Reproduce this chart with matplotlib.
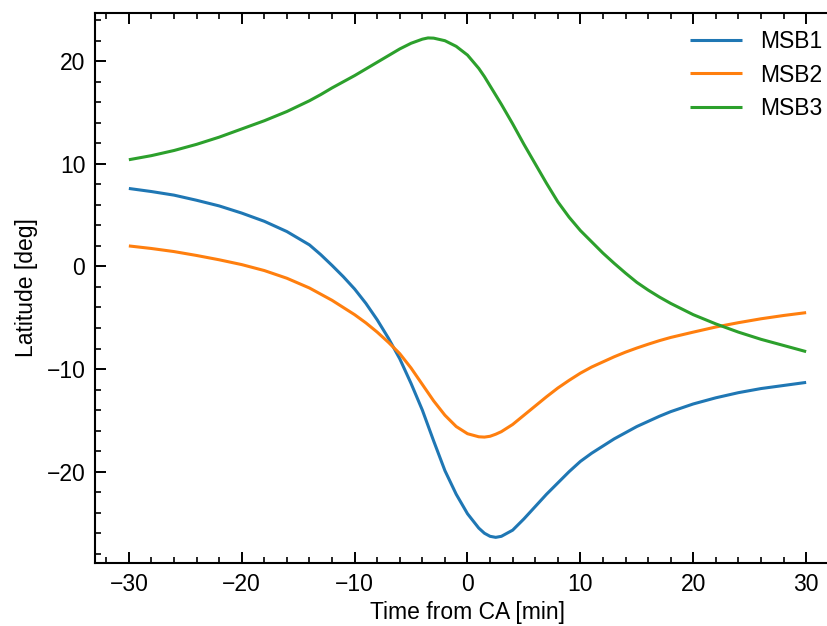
import matplotlib
matplotlib.use("Agg")
import matplotlib.pyplot as plt
from matplotlib.ticker import MultipleLocator

plt.rcParams['font.family'] = ['Liberation Sans', 'DejaVu Sans']

time_min = [-30, -28, -26, -24, -22, -20, -18, -16, -14, -13, -12, -11, -10, -9, -8, -7,
            -6, -5, -4, -3.5, -3, -2, -1, 0, 1, 1.5, 2, 2.5, 3, 4, 5, 6, 7, 8, 9, 10,
            11, 12, 13, 14, 15, 16, 17, 18, 20, 22, 24, 26, 28, 30]

msb1 = [7.6, 7.3, 6.95, 6.45, 5.9, 5.2, 4.4, 3.4, 2.1, 1.15, 0.1, -1.0, -2.2, -3.6, -5.2,
        -7.0, -9.0, -11.4, -14.0, -15.5, -17.0, -19.9, -22.2, -24.1, -25.5, -26.0, -26.3,
        -26.4, -26.3, -25.7, -24.6, -23.4, -22.2, -21.1, -20.0, -19.0, -18.2, -17.5,
        -16.8, -16.2, -15.6, -15.1, -14.6, -14.15, -13.4, -12.8, -12.3, -11.9, -11.6, -11.3]

msb2 = [2.0, 1.75, 1.45, 1.07, 0.65, 0.18, -0.4, -1.15, -2.1, -2.7, -3.3, -4.0, -4.7, -5.5,
        -6.4, -7.4, -8.5, -9.9, -11.5, -12.3, -13.1, -14.5, -15.6, -16.3, -16.6, -16.63,
        -16.55, -16.35, -16.1, -15.4, -14.5, -13.6, -12.7, -11.85, -11.1, -10.4, -9.8,
        -9.3, -8.8, -8.35, -7.95, -7.58, -7.23, -6.92, -6.4, -5.9, -5.48, -5.1, -4.78, -4.5]

msb3 = [10.4, 10.8, 11.3, 11.9, 12.6, 13.4, 14.2, 15.1, 16.15, 16.75, 17.4, 18.0, 18.6, 19.25,
        19.9, 20.55, 21.2, 21.75, 22.15, 22.27, 22.25, 22.0, 21.45, 20.6, 19.3, 18.5, 17.6,
        16.7, 15.8, 13.9, 11.9, 10.0, 8.1, 6.3, 4.8, 3.5, 2.4, 1.3, 0.3, -0.65, -1.55,
        -2.3, -2.98, -3.6, -4.7, -5.6, -6.4, -7.1, -7.7, -8.3]

labels = ["MSB1", "MSB2", "MSB3"]
colors = ["#1f77b4", "#ff7f0e", "#2ca02c"]

W, H = 828, 626
fig = plt.figure(figsize=(W / 100, H / 100), dpi=100)
left, right, top, bottom = 95, 840, 13, 563
ax = fig.add_axes([left / W, (H - bottom) / H, (right - left) / W, (bottom - top) / H])

for ys, lab, c in zip([msb1, msb2, msb3], labels, colors):
    ax.plot(time_min, ys, color=c, lw=2.2, label=lab,
            solid_joinstyle='round', solid_capstyle='butt')

ax.set_xlim(-33, 33)
ax.set_ylim(-28.9, 24.7)
ax.xaxis.set_major_locator(MultipleLocator(10))
ax.xaxis.set_minor_locator(MultipleLocator(2))
ax.yaxis.set_major_locator(MultipleLocator(10))
ax.yaxis.set_minor_locator(MultipleLocator(2))
ax.tick_params(which='both', direction='in', top=True, right=True, labelsize=16.5, pad=7)
ax.tick_params(which='major', length=7.7, width=1.4)
ax.tick_params(which='minor', length=4.1, width=1.2)
for s in ax.spines.values():
    s.set_linewidth(1.5)

ax.set_xlabel("Time from CA [min]", fontsize=16.5, labelpad=4)
ax.set_ylabel("Latitude [deg]", fontsize=16.5, labelpad=6)
ax.legend(loc='upper right', frameon=False, fontsize=16.5, handlelength=2.3,
          borderaxespad=0.35, labelspacing=0.45)

fig.savefig("out.png", dpi=100)
